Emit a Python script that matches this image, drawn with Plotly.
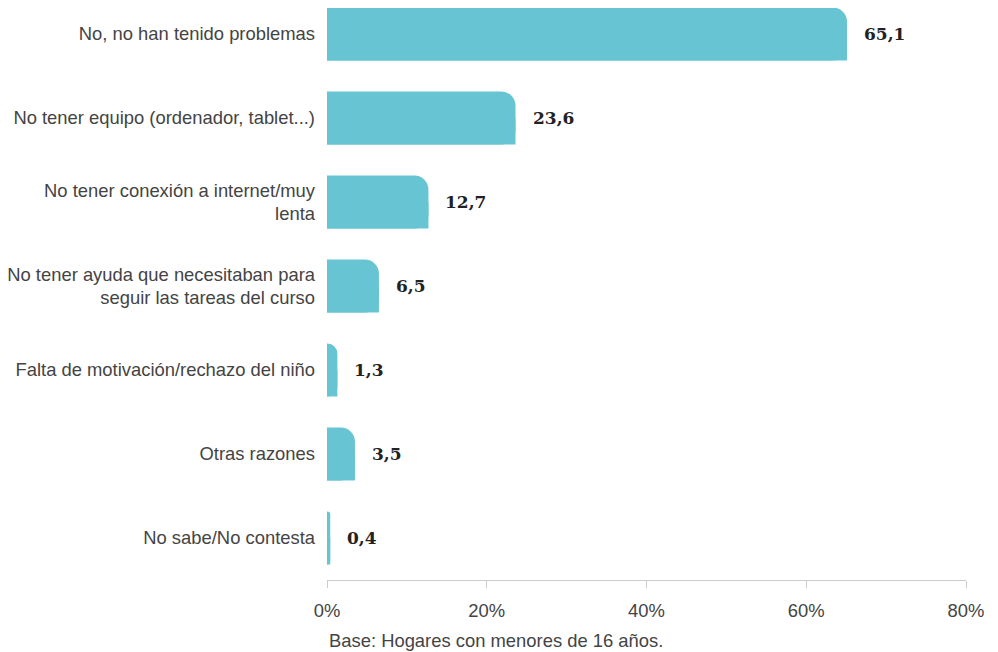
import plotly.graph_objects as go

categories = [
    "No, no han tenido problemas",
    "No tener equipo (ordenador, tablet...)",
    "No tener conexión a internet/muy<br>lenta",
    "No tener ayuda que necesitaban para<br>seguir las tareas del curso",
    "Falta de motivación/rechazo del niño",
    "Otras razones",
    "No sabe/No contesta",
]
values = [65.1, 23.6, 12.7, 6.5, 1.3, 3.5, 0.4]
x_ticks = [0, 20, 40, 60, 80]
x_tick_labels = ["0%", "20%", "40%", "60%", "80%"]
caption = "Base: Hogares con menores de 16 años."

BAR = "#67c4d3"
GREY = "#444444"
BW = 0.63
FS = 18.4

fig = go.Figure()
# full bar with rounded far-end corners
fig.add_trace(go.Bar(
    y=categories, x=values, orientation="h",
    width=[BW] * len(values), offset=[-BW / 2] * len(values),
    marker=dict(color=BAR, line=dict(width=0), cornerradius=14),
    hoverinfo="skip", showlegend=False,
))
# lower half square, so only the top-right corner stays rounded
fig.add_trace(go.Bar(
    y=categories, x=values, orientation="h",
    width=[BW / 2] * len(values), offset=[0] * len(values),
    marker=dict(color=BAR, line=dict(width=0)),
    hoverinfo="skip", showlegend=False,
))

for c, v in zip(categories, values):
    fig.add_annotation(
        x=v, y=c, xref="x", yref="y",
        text=f"{v:.1f}".replace(".", ","),
        showarrow=False, xanchor="left", yanchor="middle", xshift=15,
        font=dict(family="DejaVu Serif, serif", size=17, color="#222222", weight="bold"),
    )

fig.add_annotation(
    x=0, y=0, xref="paper", yref="paper", yshift=-60,
    text=caption, showarrow=False, xanchor="left", yanchor="middle",
    font=dict(family="Liberation Sans, Arial", size=FS, color=GREY),
)

fig.update_layout(
    width=982, height=652,
    margin=dict(l=319, r=24, t=0, b=80),
    barmode="overlay",
    plot_bgcolor="white", paper_bgcolor="white",
    font=dict(family="Liberation Sans, Arial", size=FS, color=GREY),
    xaxis=dict(
        range=[0, 80], tickvals=x_ticks, ticktext=x_tick_labels,
        showgrid=False, zeroline=False,
        showline=True, linecolor="#cccccc", linewidth=1,
        ticks="outside", ticklen=7, tickcolor="#cccccc",
        ticklabelstandoff=7,
        tickfont=dict(size=FS, color=GREY),
    ),
    yaxis=dict(
        type="category", categoryorder="array", categoryarray=categories,
        range=[6.5, -0.31],
        showgrid=False, zeroline=False, showline=False, ticks="",
        ticklabelstandoff=11,
        tickfont=dict(size=FS, color=GREY),
    ),
)

fig.write_html("out.html")
